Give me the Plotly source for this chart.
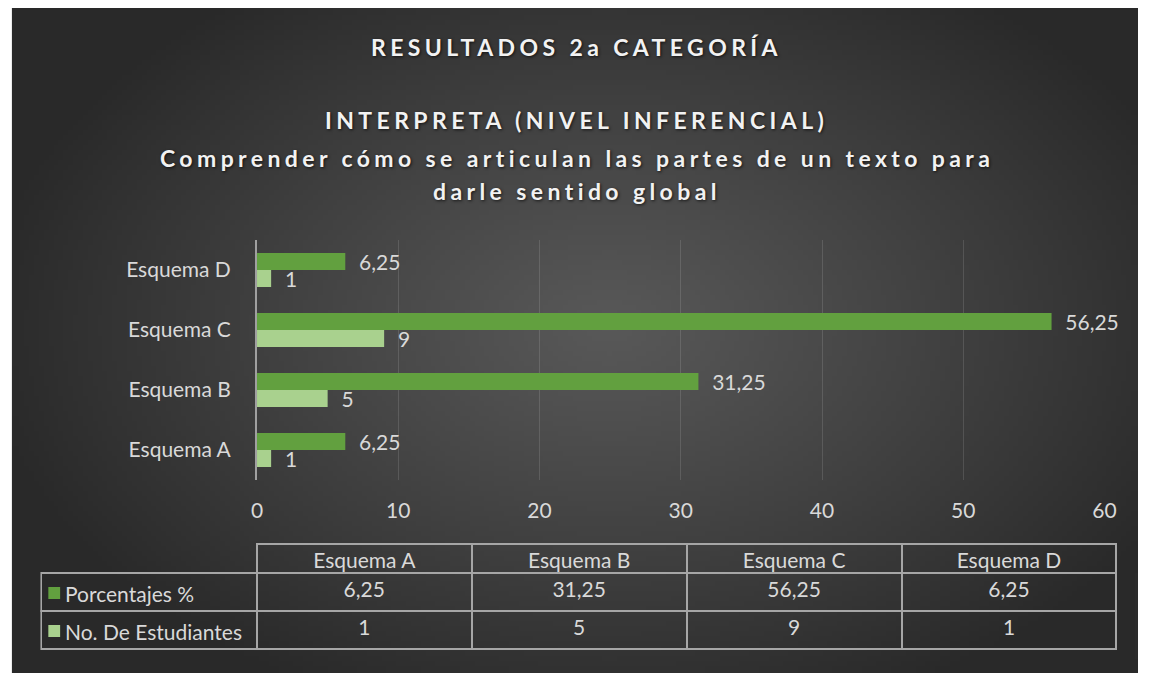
import base64, struct, zlib
import plotly.graph_objects as go

# ---------------- data ----------------
categories = ["Esquema A", "Esquema B", "Esquema C", "Esquema D"]
porcentajes = [6.25, 31.25, 56.25, 6.25]
estudiantes = [1, 5, 9, 1]
series_names = ["Porcentajes %", "No. De Estudiantes"]
x_ticks = [0, 10, 20, 30, 40, 50, 60]
title_lines = [
    "RESULTADOS 2a CATEGORÍA",
    "INTERPRETA (NIVEL INFERENCIAL)",
    "Comprender cómo se articulan las partes de un texto para",
    "darle sentido global",
]

W, H = 1150, 673
DARK_GREEN = "#62a03f"
LIGHT_GREEN = "#a9d18e"
TXT = "#d9d9d9"
FONT = "Lato"
FS = 21

# ---------- radial gradient background as a tiny PNG ----------
def gradient_png(w, h):
    rows = []
    cx, cy = 0.53, 0.48
    for j in range(h):
        row = bytearray()
        for i in range(w):
            dx = (i / (w - 1) - cx) / 0.56
            dy = (j / (h - 1) - cy) / 0.62
            t = min(1.0, (dx * dx + dy * dy) ** 0.5)
            t = t ** 1.1
            v = int(round(0x58 + (0x29 - 0x58) * t))
            row += bytes((v, v, v))
        rows.append(bytes(row))
    raw = b"".join(b"\x00" + r for r in rows)

    def chunk(tag, data):
        c = struct.pack(">I", len(data)) + tag + data
        return c + struct.pack(">I", zlib.crc32(tag + data) & 0xFFFFFFFF)

    png = b"\x89PNG\r\n\x1a\n"
    png += chunk(b"IHDR", struct.pack(">IIBBBBB", w, h, 8, 2, 0, 0, 0))
    png += chunk(b"IDAT", zlib.compress(raw, 9))
    png += chunk(b"IEND", b"")
    return "data:image/png;base64," + base64.b64encode(png).decode()

bg_src = gradient_png(230, 133)

def px_x(p):
    return p / W

def px_y(p):
    return 1 - p / H

fmt = lambda v: (f"{v:g}").replace(".", ",")

fig = go.Figure()

fig.add_trace(go.Bar(
    y=categories, x=estudiantes, name=series_names[1], orientation="h",
    marker=dict(color=LIGHT_GREEN, line=dict(width=0)),
    texttemplate="\u00a0\u00a0%{x:.2~f}", textposition="outside",
    textfont=dict(color=TXT, size=FS, family=FONT),
    constraintext="none", cliponaxis=False, hoverinfo="x+y",
))
fig.add_trace(go.Bar(
    y=categories, x=porcentajes, name=series_names[0], orientation="h",
    marker=dict(color=DARK_GREEN, line=dict(width=0)),
    texttemplate="\u00a0\u00a0%{x:.2~f}", textposition="outside",
    textfont=dict(color=TXT, size=FS, family=FONT),
    constraintext="none", cliponaxis=False, hoverinfo="x+y",
))

# ---------- data table ----------
LINE = "#a6a6a6"
cols = [["", ""]] + [[fmt(p), fmt(n)] for p, n in zip(porcentajes, estudiantes)]
fig.add_trace(go.Table(
    domain=dict(x=[px_x(36), px_x(1129)], y=[px_y(660), px_y(544)]),
    columnwidth=[219, 218.5, 218.5, 218.5, 218.5],
    header=dict(
        values=[""] + categories, height=29,
        fill=dict(color="rgba(0,0,0,0)"),
        line=dict(color=["rgba(0,0,0,0)"] + [LINE] * 4, width=2),
        font=dict(color=TXT, size=FS, family=FONT), align="center",
    ),
    cells=dict(
        values=cols, height=38,
        fill=dict(color="rgba(0,0,0,0)"),
        line=dict(color=LINE, width=2),
        font=dict(color=TXT, size=FS, family=FONT),
        align="center",
    ),
))

# row headers of the table: legend key + series name
shapes = []
annotations = []
for name, col, yc in ((series_names[0], DARK_GREEN, 593), (series_names[1], LIGHT_GREEN, 631)):
    shapes.append(dict(
        type="rect", xref="paper", yref="paper",
        x0=px_x(43), x1=px_x(55), y0=px_y(yc + 6), y1=px_y(yc - 6),
        fillcolor=col, line=dict(width=0), layer="above",
    ))
    annotations.append(dict(
        text=name, x=px_x(58), y=px_y(yc), xref="paper", yref="paper",
        xanchor="left", yanchor="middle", showarrow=False,
        font=dict(color=TXT, size=FS, family=FONT),
    ))

# ---------- titles ----------
title_y = [47, 120, 158, 191]
shadow = "1px 1px 3px rgba(0,0,0,0.7)"
for txt, yy in zip(title_lines, title_y):
    annotations.append(dict(
        text=f"<span style='letter-spacing:4.4px'>{txt}</span>",
        x=0.504, y=px_y(yy), xref="paper", yref="paper",
        xanchor="center", yanchor="middle", showarrow=False,
        font=dict(color="#f2f2f2", size=23, family=FONT, weight="bold", shadow=shadow),
    ))

fig.update_layout(
    width=W, height=H,
    margin=dict(l=0, r=0, t=0, b=0),
    paper_bgcolor="white", plot_bgcolor="rgba(0,0,0,0)",
    separators=",.",
    barmode="group", bargap=0.43, bargroupgap=0,
    showlegend=False,
    font=dict(family=FONT, color=TXT, size=FS),
    annotations=annotations,
    shapes=shapes,
    images=[dict(
        source=bg_src, xref="paper", yref="paper",
        x=px_x(6), y=px_y(8), sizex=px_x(1150 - 6), sizey=(673 - 8) / H,
        xanchor="left", yanchor="top", sizing="stretch", layer="below",
    )],
    xaxis=dict(
        domain=[px_x(255), px_x(1116)], range=[0, 60],
        tickvals=x_ticks, tickfont=dict(color=TXT, size=FS, family=FONT),
        showgrid=True, gridcolor="rgba(255,255,255,0.12)", gridwidth=1,
        zeroline=False, showline=False, ticks="", ticklabelstandoff=16,
        fixedrange=True,
    ),
    yaxis=dict(
        domain=[px_y(480), px_y(240)],
        tickfont=dict(color=TXT, size=FS, family=FONT),
        showgrid=False, zeroline=False,
        showline=True, linecolor="#a0a0a0", linewidth=2,
        ticks="", ticklabelstandoff=20, fixedrange=True,
    ),
)

fig.write_html(
    "out.html",
    config={"displayModeBar": False},
    post_script=(
        "document.documentElement.style.margin='0';"
        "document.body.style.margin='0';"
        "document.body.style.overflow='hidden';"
    ),
)
